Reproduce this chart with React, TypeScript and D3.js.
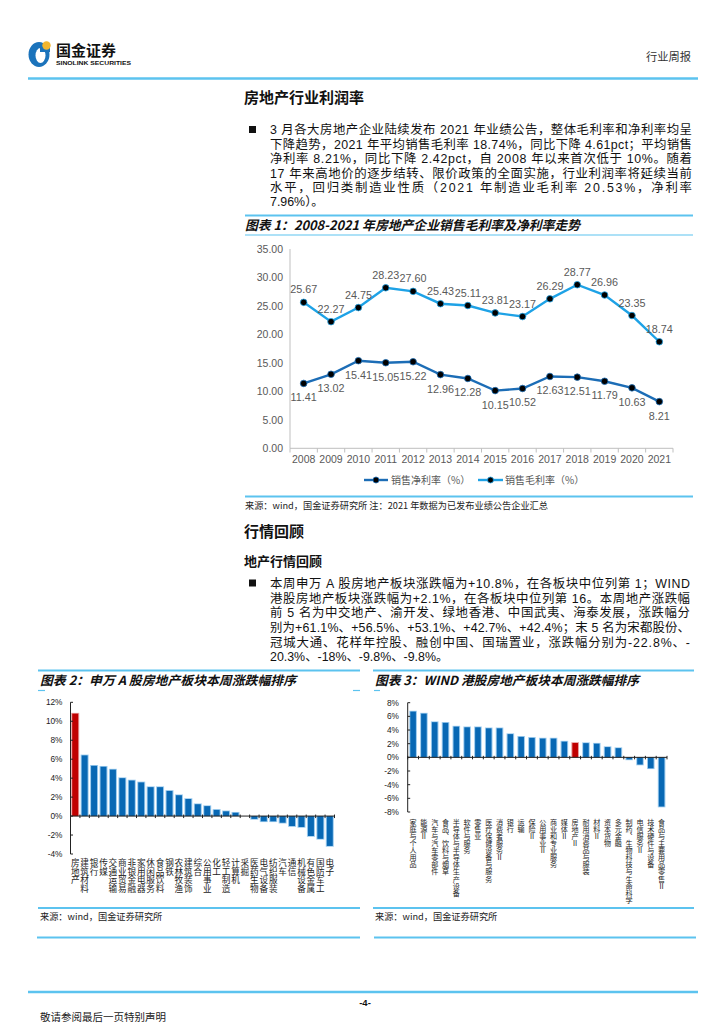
import React from 'react';
import * as d3 from 'd3';

// ---------- Chart 1 data ----------
const years = ['2008', '2009', '2010', '2011', '2012', '2013', '2014', '2015', '2016', '2017', '2018', '2019', '2020', '2021'];
const grossMargin = [25.67, 22.27, 24.75, 28.23, 27.6, 25.43, 25.11, 23.81, 23.17, 26.29, 28.77, 26.96, 23.35, 18.74];
const netMargin = [11.41, 13.02, 15.41, 15.05, 15.22, 12.96, 12.28, 10.15, 10.52, 12.63, 12.51, 11.79, 10.63, 8.21];
const chart1Ticks = [0, 5, 10, 15, 20, 25, 30, 35];

// ---------- Chart 2 data (申万 A 股) ----------
const aCategories = ['房地产', '建筑材料', '银行', '传媒', '交通运输', '商业贸易', '非银金融', '家用电器', '休闲服务', '食品饮料', '钢铁', '农林牧渔', '建筑装饰', '综合', '公用事业', '化工', '轻工制造', '计算机', '采掘', '医药生物', '电气设备', '纺织服装', '汽车', '通信', '机械设备', '有色金属', '国防军工', '电子'];
const aValues = [10.8, 6.4, 5.3, 5.2, 4.9, 4.0, 3.75, 3.55, 3.05, 3.05, 2.65, 2.2, 1.8, 1.25, 1.05, 0.65, 0.5, 0.35, 0.0, -0.3, -0.55, -0.55, -0.7, -1.05, -1.15, -2.1, -2.4, -3.15];
const aTicks = [12, 10, 8, 6, 4, 2, 0, -2, -4];
const aHighlight = '房地产';

// ---------- Chart 3 data (WIND 港股) ----------
const hkCategories = ['家庭与个人用品', '能源Ⅱ', '汽车与汽车零部件', '食品、饮料与烟草', '半导体与半导体生产设备', '软件与服务', '零售业', '医疗保健设备与服务', '消费者服务Ⅱ', '银行', '运输', '保险Ⅱ', '公用事业Ⅱ', '商业和专业服务', '媒体Ⅱ', '房地产Ⅱ', '耐用消费品与服装', '材料Ⅱ', '资本货物', '多元金融', '制药、生物科技与生命科学', '电信服务Ⅱ', '技术硬件与设备', '食品与主要用品零售Ⅱ'];
const hkValues = [6.7, 6.4, 5.15, 5.05, 4.5, 4.4, 4.4, 4.25, 4.25, 3.4, 3.0, 2.85, 2.75, 2.75, 2.3, 2.1, 2.08, 2.0, 1.5, 1.35, -0.3, -1.05, -1.6, -7.2];
const hkTicks = [8, 6, 4, 2, 0, -2, -4, -6, -8];
const hkHighlight = '房地产Ⅱ';

// ---------- Text ----------
const para1 = [
  '3 月各大房地产企业陆续发布 2021 年业绩公告，整体毛利率和净利率均呈',
  '下降趋势，2021 年平均销售毛利率 18.74%，同比下降 4.61pct；平均销售',
  '净利率 8.21%，同比下降 2.42pct，自 2008 年以来首次低于 10%。随着',
  '17 年来高地价的逐步结转、限价政策的全面实施，行业利润率将延续当前',
  '水平，回归类制造业性质（2021 年制造业毛利率 20.53%，净利率',
  '7.96%）。',
];
const para2 = [
  '本周申万 A 股房地产板块涨跌幅为+10.8%，在各板块中位列第 1；WIND',
  '港股房地产板块涨跌幅为+2.1%，在各板块中位列第 16。本周地产涨跌幅',
  '前 5 名为中交地产、渝开发、绿地香港、中国武夷、海泰发展，涨跌幅分',
  '别为+61.1%、+56.5%、+53.1%、+42.7%、+42.4%；末 5 名为宋都股份、',
  '冠城大通、花样年控股、融创中国、国瑞置业，涨跌幅分别为-22.8%、-',
  '20.3%、-18%、-9.8%、-9.8%。',
];

const FONT = '"Liberation Sans", Arial, "Noto Sans CJK SC", sans-serif';
const CJK = '"Noto Sans CJK SC", "Liberation Sans", sans-serif';
const LINE_BLUE = '#5cc3ef';
const GROSS = '#1ea2e6';
const NET = '#1c6db6';
const BAR = '#0868b4';
const BAR_EDGE = '#9ccbee';
const RED = '#c00000';

function Paragraph({ lines, x0, x1, y0, pitch }: { lines: string[]; x0: number; x1: number; y0: number; pitch: number }) {
  return (
    <g fontFamily={FONT} fontSize={12.4} fill="#111">
      <rect x={x0 - 21} y={y0 - 4} width={7} height={7} fill="#111" />
      {lines.map((l, i) => (
        <text
          key={i}
          x={x0}
          y={y0 + i * pitch + 4.3}
          {...(i < lines.length - 1 ? { textLength: x1 - x0, lengthAdjust: 'spacing' } : {})}
        >
          {l}
        </text>
      ))}
    </g>
  );
}

function VLabel({ x, y0, text, fontSize }: { x: number; y0: number; text: string; fontSize: number }) {
  return (
    <text
      x={x}
      y={y0}
      fontSize={fontSize}
      fontFamily={CJK}
      fill="#222"
      style={{ writingMode: 'vertical-rl', textOrientation: 'upright' } as React.CSSProperties}
    >
      {text}
    </text>
  );
}

function LineChart() {
  const x = d3.scaleBand<string>().domain(years).range([290, 673]);
  const y = d3.scaleLinear().domain([0, 35]).range([448.3, 249.3]);
  const cx = (d: string) => (x(d) as number) + x.bandwidth() / 2;
  const line = d3
    .line<number>()
    .x((_, i) => cx(years[i]))
    .y((v) => y(v));
  return (
    <g fontFamily={FONT}>
      <line x1={245} x2={693} y1={215.5} y2={215.5} stroke={LINE_BLUE} strokeWidth={2} />
      <text x={245} y={230} fontSize={13} fontWeight="bold" fontStyle="italic" fontFamily={CJK} fill="#111" textLength={335} lengthAdjust="spacingAndGlyphs">
        图表 1：2008-2021 年房地产企业销售毛利率及净利率走势
      </text>
      <line x1={245} x2={693} y1={235} y2={235} stroke={LINE_BLUE} strokeWidth={1.2} />
      <line x1={290} x2={290} y1={249} y2={448.3} stroke="#bfbfbf" strokeWidth={1} />
      <line x1={290} x2={673} y1={448.3} y2={448.3} stroke="#bfbfbf" strokeWidth={1} />
      {d3.range(years.length + 1).map((i) => {
        const xx = 290 + i * x.bandwidth();
        return <line key={i} x1={xx} x2={xx} y1={448.3} y2={452.5} stroke="#bfbfbf" />;
      })}
      {chart1Ticks.map((t) => (
        <text key={t} x={283} y={y(t) + 3.7} fontSize={10.5} fill="#595959" textAnchor="end">
          {t.toFixed(2)}
        </text>
      ))}
      {years.map((yr) => (
        <text key={yr} x={cx(yr)} y={463} fontSize={10.5} fill="#595959" textAnchor="middle">
          {yr}
        </text>
      ))}
      <path d={line(grossMargin) as string} fill="none" stroke={GROSS} strokeWidth={2.4} />
      <path d={line(netMargin) as string} fill="none" stroke={NET} strokeWidth={2.4} />
      {grossMargin.map((v, i) => (
        <g key={'g' + i}>
          <circle cx={cx(years[i])} cy={y(v)} r={3.3} fill="#000" stroke={GROSS} strokeWidth={0.8} />
          <text x={cx(years[i])} y={y(v) - 9} fontSize={10.8} fill="#595959" textAnchor="middle">
            {v.toFixed(2)}
          </text>
        </g>
      ))}
      {netMargin.map((v, i) => (
        <g key={'n' + i}>
          <circle cx={cx(years[i])} cy={y(v)} r={3.3} fill="#000" stroke={NET} strokeWidth={0.8} />
          <text x={cx(years[i])} y={y(v) + 18} fontSize={10.8} fill="#595959" textAnchor="middle">
            {v.toFixed(2)}
          </text>
        </g>
      ))}
      <line x1={364} x2={388} y1={480} y2={480} stroke={NET} strokeWidth={2.4} />
      <circle cx={376} cy={480} r={3} fill="#000" stroke={NET} strokeWidth={0.8} />
      <text x={391} y={483.5} fontSize={10} fill="#595959" fontFamily={CJK}>
        销售净利率（%）
      </text>
      <line x1={478} x2={503} y1={480} y2={480} stroke={GROSS} strokeWidth={2.4} />
      <circle cx={490.5} cy={480} r={3} fill="#000" stroke={GROSS} strokeWidth={0.8} />
      <text x={505} y={483.5} fontSize={10} fill="#595959" fontFamily={CJK}>
        销售毛利率（%）
      </text>
      <line x1={245} x2={693} y1={496.5} y2={496.5} stroke={LINE_BLUE} strokeWidth={2} />
      <text x={245} y={509} fontSize={9.2} fill="#222" fontFamily={CJK}>
        来源：wind，国金证券研究所 注：2021 年数据为已发布业绩公告企业汇总
      </text>
    </g>
  );
}

function BarChart(props: {
  cats: string[];
  vals: number[];
  ticks: number[];
  highlight: string;
  xRange: [number, number];
  yDomain: [number, number];
  yRange: [number, number];
  barW: number;
  labelY0: number;
  labelSize: number;
  tickX: number;
}) {
  const { cats, vals, ticks, highlight, xRange, yDomain, yRange, barW, labelY0, labelSize, tickX } = props;
  const x = d3.scaleBand<string>().domain(cats).range(xRange);
  const y = d3.scaleLinear().domain(yDomain).range(yRange);
  const y0 = y(0);
  const bw = x.bandwidth();
  return (
    <g fontFamily={FONT}>
      {vals.map((v, i) => {
        const c = cats[i];
        const xx = (x(c) as number) + bw / 2;
        const top = Math.min(y(v), y0);
        const h = Math.abs(y(v) - y0);
        const hi = c === highlight;
        return (
          <g key={c}>
            {h > 0.3 && <rect x={xx - barW / 2 - 1} y={top - (v > 0 ? 0.8 : 0)} width={barW + 2} height={h + 0.8} fill={hi ? '#e79a9a' : BAR_EDGE} />}
            <rect x={xx - barW / 2} y={top} width={barW} height={h} fill={hi ? RED : BAR} />
          </g>
        );
      })}
      <line x1={xRange[0]} x2={xRange[0]} y1={yRange[1]} y2={yRange[0]} stroke="#222" strokeWidth={1} />
      {ticks.map((t) => (
        <g key={t}>
          <line x1={xRange[0]} x2={xRange[0] + 2.5} y1={y(t)} y2={y(t)} stroke="#222" />
          <text x={tickX} y={y(t) + 3} fontSize={8.3} fill="#222" textAnchor="end">
            {t}%
          </text>
        </g>
      ))}
      <line x1={xRange[0]} x2={xRange[1]} y1={y0} y2={y0} stroke="#222" strokeWidth={1} />
      {d3.range(cats.length + 1).map((i) => {
        const xx = xRange[0] + i * bw;
        return <line key={i} x1={xx} x2={xx} y1={y0 - 1.5} y2={y0 + 2} stroke="#222" />;
      })}
      {cats.map((c) => (
        <VLabel key={c} x={(x(c) as number) + bw / 2} y0={labelY0} text={c} fontSize={labelSize} />
      ))}
    </g>
  );
}

function Header() {
  return (
    <g>
      <ellipse cx={39} cy={54.5} rx={10.5} ry={12.5} fill="#1b73bb" />
      <ellipse cx={40.5} cy={55.5} rx={5} ry={7.5} fill="#ffffff" />
      <rect x={40} y={46} width={10} height={6} fill="#1b73bb" />
      <circle cx={46.5} cy={45.5} r={4.2} fill="#f2b630" />
      <text x={56} y={56} fontSize={14.5} fontWeight="bold" fontFamily={CJK} fill="#111" textLength={60} lengthAdjust="spacingAndGlyphs">
        国金证券
      </text>
      <text x={56} y={64.5} fontSize={6.2} fontWeight="bold" fontFamily={FONT} fill="#111" textLength={75} lengthAdjust="spacingAndGlyphs">
        SINOLINK SECURITIES
      </text>
      <text x={646} y={61} fontSize={11.5} fontFamily={CJK} fill="#333" textLength={45} lengthAdjust="spacingAndGlyphs">
        行业周报
      </text>
      <line x1={28} x2={698} y1={78.5} y2={78.5} stroke={LINE_BLUE} strokeWidth={2.5} />
    </g>
  );
}

export default function App() {
  return (
    <svg width={724} height={1024} style={{ position: 'absolute', left: 0, top: 0, background: '#fff' }}>
      <rect width={724} height={1024} fill="#fff" />
      <Header />
      <text x={244} y={103} fontSize={15} fontWeight="bold" fontFamily={CJK} fill="#111">
        房地产行业利润率
      </text>
      <Paragraph lines={para1} x0={270} x1={692} y0={130} pitch={14.4} />
      <LineChart />

      <text x={244} y={536.5} fontSize={15} fontWeight="bold" fontFamily={CJK} fill="#111">
        行情回顾
      </text>
      <text x={244} y={566} fontSize={13} fontWeight="bold" fontFamily={CJK} fill="#111">
        地产行情回顾
      </text>
      <Paragraph lines={para2} x0={270} x1={690} y0={583.5} pitch={14.7} />

      {/* Chart 2 frame */}
      <line x1={38} x2={360} y1={670.5} y2={670.5} stroke={LINE_BLUE} strokeWidth={2} />
      <text x={40} y={685} fontSize={12.5} fontWeight="bold" fontStyle="italic" fontFamily={CJK} fill="#111" textLength={256} lengthAdjust="spacingAndGlyphs">
        图表 2：申万 A 股房地产板块本周涨跌幅排序
      </text>
      <line x1={38} x2={45} y1={690.5} y2={690.5} stroke={LINE_BLUE} strokeWidth={1.2} />
      <line x1={353} x2={360} y1={690.5} y2={690.5} stroke={LINE_BLUE} strokeWidth={1.2} />
      <BarChart
        cats={aCategories}
        vals={aValues}
        ticks={aTicks}
        highlight={aHighlight}
        xRange={[70.5, 334.5]}
        yDomain={[-4, 12]}
        yRange={[854, 702.3]}
        barW={6}
        labelY0={858.5}
        labelSize={8.6}
        tickX={62.5}
      />
      <line x1={38} x2={360} y1={908} y2={908} stroke={LINE_BLUE} strokeWidth={2} />
      <text x={40} y={920} fontSize={9.2} fontFamily={CJK} fill="#222">
        来源：wind，国金证券研究所
      </text>
      <line x1={37} x2={360} y1={937.5} y2={937.5} stroke={LINE_BLUE} strokeWidth={2} />

      {/* Chart 3 frame */}
      <line x1={373} x2={694} y1={670.5} y2={670.5} stroke={LINE_BLUE} strokeWidth={2} />
      <text x={375} y={685} fontSize={12.5} fontWeight="bold" fontStyle="italic" fontFamily={CJK} fill="#111" textLength={264} lengthAdjust="spacingAndGlyphs">
        图表 3：WIND 港股房地产板块本周涨跌幅排序
      </text>
      <line x1={374} x2={380} y1={690.5} y2={690.5} stroke={LINE_BLUE} strokeWidth={1.2} />
      <BarChart
        cats={hkCategories}
        vals={hkValues}
        ticks={hkTicks}
        highlight={hkHighlight}
        xRange={[407.7, 667]}
        yDomain={[-8, 8]}
        yRange={[812, 702.7]}
        barW={5.6}
        labelY0={818.5}
        labelSize={7.1}
        tickX={399}
      />
      <line x1={373} x2={694} y1={908} y2={908} stroke={LINE_BLUE} strokeWidth={2} />
      <text x={375} y={920} fontSize={9.2} fontFamily={CJK} fill="#222">
        来源：wind，国金证券研究所
      </text>
      <line x1={374} x2={696} y1={937.5} y2={937.5} stroke={LINE_BLUE} strokeWidth={2} />

      {/* Footer */}
      <line x1={28} x2={698} y1={992} y2={992} stroke={LINE_BLUE} strokeWidth={2.5} />
      <text x={365} y={1006} fontSize={9.5} fontWeight="bold" fontFamily={FONT} fill="#111" textAnchor="middle">
        -4-
      </text>
      <text x={40} y={1020.5} fontSize={10.5} fontFamily={CJK} fill="#222">
        敬请参阅最后一页特别声明
      </text>
    </svg>
  );
}
